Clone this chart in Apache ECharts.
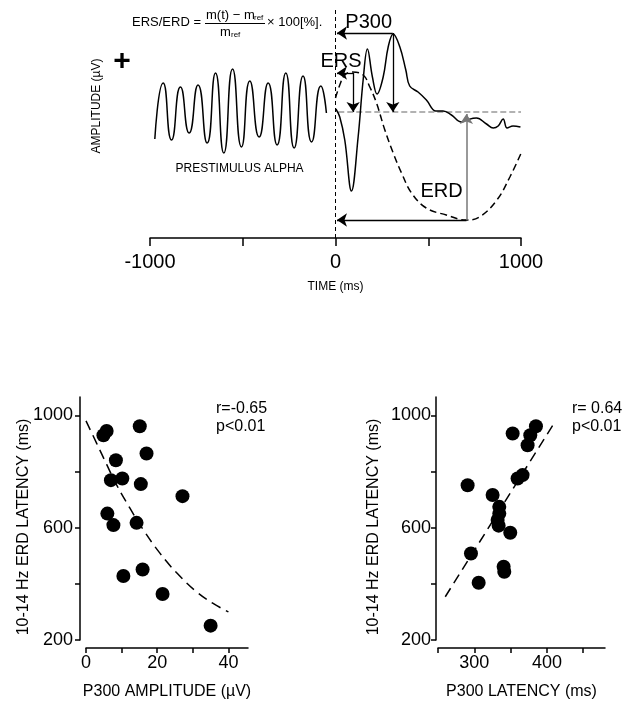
<!DOCTYPE html>
<html><head><meta charset="utf-8">
<script src="https://cdn.jsdelivr.net/npm/echarts@6/dist/echarts.min.js"></script>
<style>html,body{margin:0;padding:0;background:#fff}#c{width:629px;height:711px}</style>
</head><body><div id="c"></div>
<script>
// ---------- Top panel: EEG trace (time in ms, amplitude in arbitrary units) ----------
const alphaT = [-974,-929,-884,-836,-789,-741,-692,-647,-602,-555,-507,-462,-412,-363,-315,-268,-223,-175,-129,-79,-49];
const alphaV = [99,155,98,151,105,153,95,165,85,169,91,157,101,155,93,165,90,162,96,152,125];
const erpT = [2,23,50,86,122,149,172,199,224,257,284,311,347,379,400,445,490,541,580,625,679,706,760,814,850,877,904,925,957,997];
const erpV = [129,121,98,47,101,158,189,161,144,161,191,204,191,168,152,146,138,127,127,123,116,118,120,114,110,112,119,110,112,111];
const bandT = [0,23,50,90,149,185,221,266,311,356,410,489,597,704,776,870,940,1001];
const bandV = [140,153,163,166,163,151,135,108,85,65,45,30,23,18,21,38,61,85];
const timeTicks = [-1000,-500,0,500,1000];
const timeLabels = [-1000,0,1000];
const stimulusOnset = 0;
const baselineLevel = 126;
const baselineStart = 15;
const p300Peak = [309,205];
const ersPeak = [95,165];
const erdMin = [706,18];
const arrowTipT = 8;

// ---------- Bottom left: P300 amplitude vs ERD latency ----------
const ampX = [4.9,5.8,15.1,17.0,8.4,7.0,10.2,15.4,27.1,6.0,7.7,14.2,15.9,10.5,21.5,35.0];
const ampY = [929,944,961,864,840,769,775,755,712,650,609,617,451,428,364,251];
const fitAmpX = [0,3,5.8,8.6,12.3,16.1,20.7,25.4,31,35.7,40];
const fitAmpY = [980,900,825,752,670,592,510,440,372,330,300];
const ampTicks = [0,10,20,30,40];
const ampLabels = [0,20,40];

// ---------- Bottom right: P300 latency vs ERD latency ----------
const latX = [290.8,352.8,384.9,377.1,373.4,359.6,366.5,325.2,334.4,334.4,332.1,333.5,349.5,295.4,340.4,341.3,306.0];
const latY = [751,935,961,929,893,775,787,716,674,650,627,607,582,508,461,443,404];
const fitLatX = [260,408];
const fitLatY = [354,964];
const latTicks = [250,300,350,400,450];
const latLabels = [300,400];

const erdTicks = [200,400,600,800,1000];
const erdLabels = [200,600,1000];

const FONT = '"Liberation Sans", Arial, sans-serif';
const zip = (a,b) => a.map((v,i)=>[v,b[i]]);
const plain = v => String(v);

const chart = echarts.init(document.getElementById('c'), null, {renderer:'canvas'});

function scatterXAxis(gridIndex, min, max, ticks, labels, name) {
  return {
    gridIndex, type:'value', min, max, offset:8, name, nameLocation:'middle', nameGap:36,
    nameTextStyle:{fontSize:16, color:'#000', fontFamily:FONT},
    axisLine:{show:true, onZero:false, lineStyle:{color:'#000', width:1.5}},
    axisTick:{show:true, inside:false, length:5, lineStyle:{color:'#000', width:1.5}, customValues:ticks},
    axisLabel:{show:true, fontSize:18, color:'#000', margin:6, fontFamily:FONT, customValues:labels, formatter:plain},
    splitLine:{show:false}
  };
}
function scatterYAxis(gridIndex, offset, margin) {
  return {
    gridIndex, type:'value', min:200, max:1065, offset,
    axisLine:{show:true, onZero:false, lineStyle:{color:'#000', width:1.5}},
    axisTick:{show:true, inside:false, length:5, lineStyle:{color:'#000', width:1.5}, customValues:erdTicks},
    axisLabel:{show:true, fontSize:18, color:'#000', margin, fontFamily:FONT, customValues:erdLabels, formatter:plain},
    splitLine:{show:false}
  };
}
function txt(x, y, text, size, extra) {
  return Object.assign({type:'text', x, y, style:Object.assign({text, fontSize:size, fill:'#000', fontFamily:FONT, verticalAlign:'middle'}, (extra||{}).style||{})}, extra && extra.rotation ? {rotation:extra.rotation} : {});
}

const arrowLine = {color:'#000', width:1.3, type:'solid', opacity:1};
const option = {
  animation:false,
  textStyle:{fontFamily:FONT},
  grid:[
    {left:150, top:0, width:371, height:238, outerBoundsMode:'none'},
    {left:86, top:397, width:162, height:243, outerBoundsMode:'none'},
    {left:438, top:397, width:167, height:243, outerBoundsMode:'none'}
  ],
  xAxis:[
    {gridIndex:0, type:'value', min:-1000, max:1000, name:'TIME (ms)', nameLocation:'middle', nameGap:43,
      nameTextStyle:{fontSize:12, color:'#000', fontFamily:FONT},
      axisLine:{show:true, onZero:false, lineStyle:{color:'#000', width:1.5}},
      axisTick:{show:true, inside:false, length:8, lineStyle:{color:'#000', width:1.5}, customValues:timeTicks},
      axisLabel:{show:true, fontSize:20, color:'#000', margin:14, fontFamily:FONT, customValues:timeLabels, formatter:plain},
      splitLine:{show:false}},
    scatterXAxis(1, 0, 45.5, ampTicks, ampLabels, 'P300 AMPLITUDE (µV)'),
    scatterXAxis(2, 250, 480, latTicks, latLabels, 'P300 LATENCY (ms)')
  ],
  yAxis:[
    {gridIndex:0, type:'value', min:0, max:238, show:false},
    scatterYAxis(1, 6, 7),
    scatterYAxis(2, 2, 5)
  ],
  graphic:[
    txt(132, 22, 'ERS/ERD =', 13),
    txt(206, 15, 'm(t) − m', 13),
    txt(254, 18, 'ref', 8),
    {type:'line', shape:{x1:205, y1:23.5, x2:265, y2:23.5}, style:{stroke:'#000', lineWidth:1}},
    txt(220, 32, 'm', 13),
    txt(231, 35, 'ref', 8),
    txt(267, 22, '× 100[%].', 13),
    txt(122, 62, '+', 30, {style:{fontWeight:'bold', align:'center'}}),
    txt(97, 106, 'AMPLITUDE (µV)', 12, {rotation:Math.PI/2, style:{align:'center'}}),
    txt(24, 527, '10-14 Hz ERD LATENCY (ms)', 16, {rotation:Math.PI/2, style:{align:'center'}}),
    txt(374, 527, '10-14 Hz ERD LATENCY (ms)', 16, {rotation:Math.PI/2, style:{align:'center'}}),
    txt(216, 409, 'r=-0.65', 16),
    txt(216, 427, 'p<0.01', 16),
    txt(572, 409, 'r= 0.64', 16),
    txt(572, 427, 'p<0.01', 16)
  ],
  series:[
    {type:'line', xAxisIndex:0, yAxisIndex:0, data:[[stimulusOnset,0],[stimulusOnset,228]], symbol:'none', silent:true,
      lineStyle:{color:'#000', width:1, type:[4,3]}},
    {type:'line', xAxisIndex:0, yAxisIndex:0, data:[[baselineStart,baselineLevel],[1000,baselineLevel]], symbol:'none', silent:true,
      lineStyle:{color:'#999', width:1.5, type:[6,3]}},
    {type:'line', xAxisIndex:0, yAxisIndex:0, data:zip(alphaT, alphaV), symbol:'none', smooth:0.6, silent:true,
      lineStyle:{color:'#000', width:1.5}},
    {type:'line', xAxisIndex:0, yAxisIndex:0, data:zip(bandT, bandV), symbol:'none', smooth:0.4, silent:true,
      lineStyle:{color:'#000', width:1.5, type:[7,4]}},
    {type:'line', xAxisIndex:0, yAxisIndex:0, data:zip(erpT, erpV), symbol:'none', smooth:0.4, silent:true,
      lineStyle:{color:'#000', width:1.5},
      markLine:{silent:true, symbol:['none','arrow'], symbolSize:10, label:{show:false}, lineStyle:arrowLine,
        emphasis:{disabled:true},
        data:[
          [{coord:p300Peak}, {coord:[arrowTipT, p300Peak[1]]}],
          [{coord:p300Peak}, {coord:[p300Peak[0], baselineLevel]}],
          [{coord:ersPeak}, {coord:[arrowTipT, ersPeak[1]]}],
          [{coord:ersPeak}, {coord:[ersPeak[0], baselineLevel]}],
          [{coord:erdMin}, {coord:[arrowTipT, erdMin[1]]}],
          [{coord:erdMin, lineStyle:{color:'#777', width:1.5}}, {coord:[erdMin[0], baselineLevel-2]}]
        ]}},
    {type:'scatter', xAxisIndex:0, yAxisIndex:0, symbolSize:0, silent:true, itemStyle:{opacity:1},
      label:{show:true, position:'inside', formatter:'{b}', color:'#000', opacity:1, fontSize:20, fontFamily:FONT},
      data:[
        {name:'P300', value:[179,216]},
        {name:'ERS', value:[30,177]},
        {name:'ERD', value:[572,47]},
        {name:'PRESTIMULUS ALPHA', value:[-517,69], label:{fontSize:12}}
      ]},
    {type:'line', xAxisIndex:1, yAxisIndex:1, data:zip(fitAmpX, fitAmpY), symbol:'none', smooth:0.4, silent:true,
      lineStyle:{color:'#000', width:1.5, type:[10,6]}},
    {type:'scatter', xAxisIndex:1, yAxisIndex:1, data:zip(ampX, ampY), symbol:'circle', symbolSize:14, silent:true,
      itemStyle:{color:'#000', opacity:1}},
    {type:'line', xAxisIndex:2, yAxisIndex:2, data:zip(fitLatX, fitLatY), symbol:'none', silent:true,
      lineStyle:{color:'#000', width:1.5, type:[10,6]}},
    {type:'scatter', xAxisIndex:2, yAxisIndex:2, data:zip(latX, latY), symbol:'circle', symbolSize:14, silent:true,
      itemStyle:{color:'#000', opacity:1}}
  ]
};
chart.setOption(option);
</script>
</body></html>
